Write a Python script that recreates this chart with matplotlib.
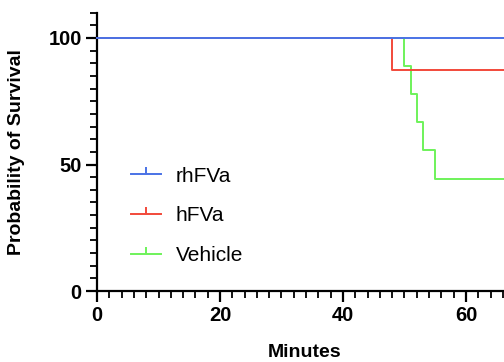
import matplotlib
matplotlib.use('Agg')
import matplotlib.pyplot as plt
from matplotlib.ticker import MultipleLocator

# Survival data (Kaplan-Meier steps)
rh_t = [0, 70]
rh_s = [100, 100]

h_t = [0, 48, 70]
h_s = [100, 87.5, 87.5]

veh_t = [0, 50, 51, 52, 53, 55, 70]
veh_s = [100, 88.9, 77.8, 66.7, 55.6, 44.4, 44.4]

labels = ['rhFVa', 'hFVa', 'Vehicle']
colors = ['#4a72e6', '#f2493a', '#6ef25a']

plt.rcParams['font.family'] = ['Liberation Sans', 'DejaVu Sans']

fig = plt.figure(figsize=(5.04, 3.62), dpi=100)
ax = fig.add_axes([0.1925, 0.196, 0.854, 0.769])

series = list(zip([rh_t, h_t, veh_t], [rh_s, h_s, veh_s], labels, colors))
# draw vehicle first so rhFVa sits on top
for z, (t, s, lab, c) in enumerate(reversed(series)):
    ax.step(t, s, where='post', color=c, lw=1.4, label=lab, clip_on=False, zorder=2 + z)

ax.set_xlim(0, 70)
ax.set_ylim(0, 110)
ax.xaxis.set_major_locator(MultipleLocator(20))
ax.xaxis.set_minor_locator(MultipleLocator(2))
ax.yaxis.set_major_locator(MultipleLocator(50))
ax.yaxis.set_minor_locator(MultipleLocator(5))

for side in ['top', 'right']:
    ax.spines[side].set_visible(False)
for side in ['left', 'bottom']:
    ax.spines[side].set_linewidth(1.6)

ax.tick_params(which='major', length=8, width=1.6, labelsize=14.5, pad=3)
ax.tick_params(which='minor', length=5, width=1.3)
for lbl in ax.get_xticklabels() + ax.get_yticklabels():
    lbl.set_fontweight('bold')

ax.set_xlabel('Minutes', fontsize=14, fontweight='bold')
ax.xaxis.set_label_coords(0.483, -0.19)
ax.set_ylabel('Probability of Survival', fontsize=14, fontweight='bold')
ax.yaxis.set_label_coords(-0.168, 0.5)

# legend handles with upward censor tick
handles = [plt.Line2D([0], [0], color=c, lw=1.4, marker=2, markersize=5, markeredgewidth=1.4)
           for c in colors]
ax.legend(handles, labels, loc='center left', bbox_to_anchor=(0.035, 0.27),
          frameon=False, fontsize=15, handlelength=1.45, handletextpad=0.7,
          labelspacing=1.0)

fig.savefig('out.png', dpi=100)
